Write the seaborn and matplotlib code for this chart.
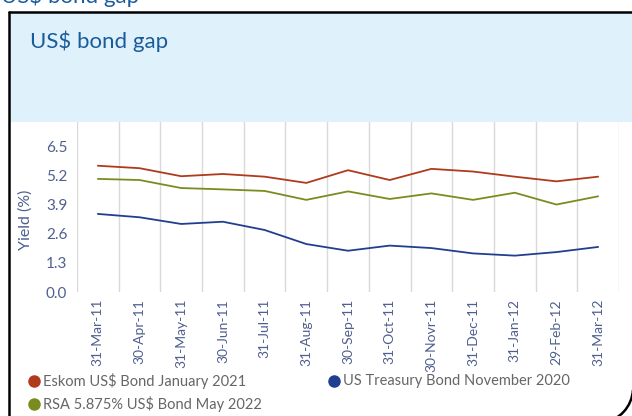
import matplotlib
matplotlib.use("Agg")
import matplotlib.pyplot as plt
from matplotlib.patches import Rectangle, Arc
from matplotlib.lines import Line2D
import numpy as np
import pandas as pd
import seaborn as sns

# Month-end observation dates
dates = ["31-Mar-11", "30-Apr-11", "31-May-11", "30-Jun-11", "31-Jul-11",
         "31-Aug-11", "30-Sep-11", "31-Oct-11", "30-Novr-11", "31-Dec-11",
         "31-Jan-12", "29-Feb-12", "31-Mar-12"]

# Yields (%)
eskom = [5.66, 5.55, 5.19, 5.29, 5.17, 4.89, 5.46, 5.02, 5.52, 5.40, 5.17, 4.96, 5.17]
rsa = [5.07, 5.02, 4.66, 4.60, 4.53, 4.13, 4.51, 4.17, 4.42, 4.13, 4.45, 3.92, 4.29]
ust = [3.50, 3.35, 3.05, 3.15, 2.78, 2.15, 1.85, 2.08, 1.97, 1.73, 1.63, 1.79, 2.02]

series_names = ["Eskom US$ Bond January 2021",
                "RSA 5.875% US$ Bond May 2022",
                "US Treasury Bond November 2020"]
series_colors = ["#b03a1c", "#7b8c1f", "#213f8f"]

yticks = [0.0, 1.3, 2.6, 3.9, 5.2, 6.5]

sns.set_theme(style="white")
plt.rcParams["font.family"] = ["Lato", "DejaVu Sans"]

W, H = 632, 416
fig = plt.figure(figsize=(W / 100, H / 100), dpi=100)
fig.patch.set_facecolor("white")


def fx(x):
    return x / W


def fy(y):
    return 1 - y / H


pos = np.arange(len(dates))
df = pd.DataFrame({"pos": np.tile(pos, 3),
                   "yield": eskom + rsa + ust,
                   "bond": np.repeat(series_names, len(dates))})

ax_l, ax_r, ax_t, ax_b = 77, 619, 118, 292
ax = fig.add_axes([fx(ax_l), fy(ax_b), fx(ax_r - ax_l), (ax_b - ax_t) / H])
sns.lineplot(data=df, x="pos", y="yield", hue="bond",
             palette=dict(zip(series_names, series_colors)),
             linewidth=1.3, legend=False, ax=ax)

tick_color = "#4f5f8f"
ax.set_xlim(-0.5, len(dates) - 0.5)
ax.set_ylim(0, 7.8)
ax.set_xticks(pos)
ax.set_xticklabels(dates, rotation=90, fontsize=10, color=tick_color)
ax.set_xticks(np.arange(-0.5, len(dates)), minor=True)
ax.set_yticks(yticks)
ax.set_yticklabels([f"{v:.1f}" for v in yticks], fontsize=11, color=tick_color)
ax.tick_params(axis="x", which="major", length=0, pad=5)
ax.tick_params(axis="x", which="minor", length=4, color="#d9d9d9", width=1)
ax.tick_params(axis="y", length=0, pad=7)
ax.grid(False)
ax.xaxis.grid(True, which="minor", color="#d9d9d9", linewidth=1)
for s in ax.spines.values():
    s.set_visible(False)
ax.set_xlabel("")
ax.set_ylabel("Yield (%)", fontsize=11.5, color=tick_color)
ax.yaxis.set_label_coords((33 - ax_l) / (ax_r - ax_l), (292 - 220) / (ax_b - ax_t))

# Header panel
fig.patches.append(Rectangle((fx(10), fy(122)), fx(W - 10), (122 - 13) / H,
                             transform=fig.transFigure, facecolor="#dff1fb",
                             edgecolor="none", zorder=5))
fig.text(fx(30), fy(41), "US$ bond gap", fontsize=16, color="#1a5b9c",
         va="center", ha="left", zorder=6)
fig.text(fx(1), fy(-4), "US$ bond gap", fontsize=16, color="#1a5b9c",
         va="center", ha="left", zorder=6)

# Frame
fig.lines.append(Line2D([fx(9), fx(9)], [fy(12), fy(H + 5)],
                        transform=fig.transFigure, color="black", lw=1.8, zorder=7))
fig.lines.append(Line2D([fx(9), fx(W + 5)], [fy(12), fy(12)],
                        transform=fig.transFigure, color="black", lw=1.8, zorder=7))
fig.patches.append(Arc((fx(598), fy(388)), fx(70), 70 / H, theta1=275, theta2=355,
                       transform=fig.transFigure, color="black", lw=1.8, zorder=7))

# Legend
leg_pos = [(30, 381), (30, 404), (330, 381)]
for (x, y), name, c in zip(leg_pos, series_names, series_colors):
    fig.lines.append(Line2D([fx(x + 4)], [fy(y)], transform=fig.transFigure,
                            linestyle="none", marker="o", markersize=8,
                            markerfacecolor=c, markeredgecolor=c))
    fig.text(fx(x + 13), fy(y), name, fontsize=10.5, color="#666666",
             va="center", ha="left")

fig.savefig("out.png", dpi=100)
